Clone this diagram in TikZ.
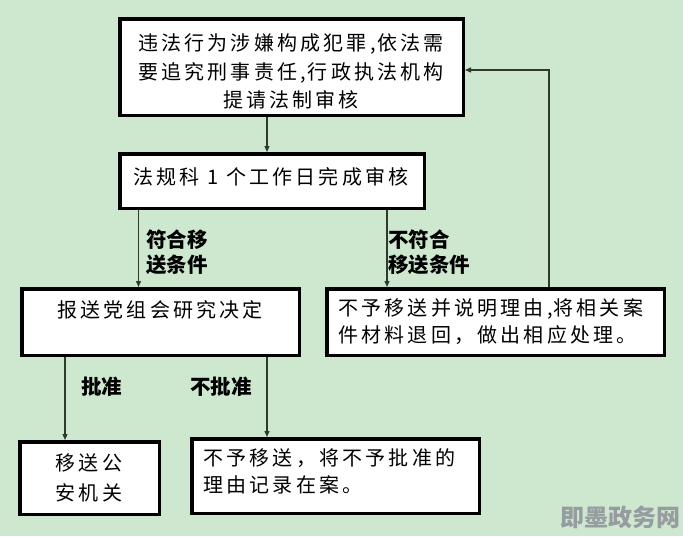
\documentclass[tikz,border=0pt]{standalone}
\usepackage{fontspec}
\newfontfamily\cjk[LetterSpace=16]{Noto Sans CJK SC}
\newfontfamily\cjklab{Noto Sans CJK SC}
\usetikzlibrary{arrows.meta,calc}
\definecolor{bgc}{RGB}{205,232,206}
\definecolor{lnc}{RGB}{45,58,45}
\definecolor{wmc}{RGB}{150,156,160}
\tikzset{
  box/.style={draw=black, line width=3.5pt, fill=white, inner sep=0pt},
  txt/.style={inner sep=0pt, font=\cjk\fontsize{20}{28}\selectfont},
  lab/.style={inner sep=0pt, align=left, font=\cjklab\bfseries\fontsize{20.5}{25}\selectfont},
  arr/.style={draw=lnc, line width=1.3pt, -{Triangle[length=6pt,width=5pt]}}
}
\begin{document}
\begin{tikzpicture}[x=1pt,y=-1pt]
\fill[bgc] (0,0) rectangle (683,536);
\useasboundingbox (0,0) rectangle (683,536);
% boxes (outer sizes minus border)
\node[box, minimum width=343.5pt, minimum height=96.5pt] (b1) at (291.5,67) {};
\node[box, minimum width=304.5pt, minimum height=54.5pt] (b2) at (272,181) {};
\node[box, minimum width=277.5pt, minimum height=66.5pt] (b3) at (160.5,322) {};
\node[box, minimum width=337.5pt, minimum height=66.5pt] (b4) at (495.5,322) {};
\node[box, minimum width=139.5pt, minimum height=72.5pt] (b5) at (89.5,478) {};
\node[box, minimum width=287.5pt, minimum height=74.5pt] (b6) at (335.5,476) {};
% texts
\node[txt, align=center, font=\cjk\fontsize{20}{28.5}\selectfont] (t1) at (291,71.5)
  {违法行为涉嫌构成犯罪,\kern2pt 依法需\\要追究刑事责任,\kern2pt 行政执法机构\\提请法制审核};
\node[txt, anchor=west] (t2) at (133,177) {法规科 1 个工作日完成审核};
\node[txt, anchor=west] (t3) at (57,310) {报送党组会研究决定};
\node[txt, anchor=west, align=left, font=\cjk\fontsize{20}{27}\selectfont] (t4) at (338,321.5)
  {不予移送并说明理由,\kern1pt 将相关案\\件材料退回，做出相应处理。};
\node[txt, align=center, font=\cjk\fontsize{20}{30}\selectfont] (t5) at (89,478) {移送公\\安机关};
\node[txt, anchor=west, align=left, font=\cjk\fontsize{20}{27}\selectfont] (t6) at (203,471.5)
  {不予移送，将不予批准的\\理由记录在案。};
% connectors
\draw[arr] ([xshift=-24.5pt]b1.south) -- ([xshift=-24.5pt]b1.south |- b2.north);
\draw[arr] ([xshift=-133.5pt]b2.south) -- ([xshift=-133.5pt]b2.south |- b3.north);
\draw[arr] ([xshift=115pt]b2.south) -- ([xshift=115pt]b2.south |- b4.north);
\draw[arr] ([xshift=53.5pt]b4.north) |- ([yshift=-3pt]b1.east);
\draw[arr] ([xshift=-95.5pt]b3.south) -- ([xshift=-95.5pt]b3.south |- b5.north);
\draw[arr] ([xshift=106.5pt]b3.south) -- ([xshift=106.5pt]b3.south |- b6.north);
% labels
\node[lab, anchor=west] (l1) at (146,252.5) {符合移\\送条件};
\node[lab, anchor=west] (l2) at (388,252.5) {不符合\\移送条件};
\node[lab, anchor=west] (l3) at (81,387) {批准};
\node[lab, anchor=west] (l4) at (190,387) {不批准};
% watermark
\node[inner sep=0pt, anchor=east, text=wmc, font=\cjklab\bfseries\fontsize{24}{24}\selectfont] (wm) at (681,517) {即墨政务网};
\end{tikzpicture}
\end{document}
